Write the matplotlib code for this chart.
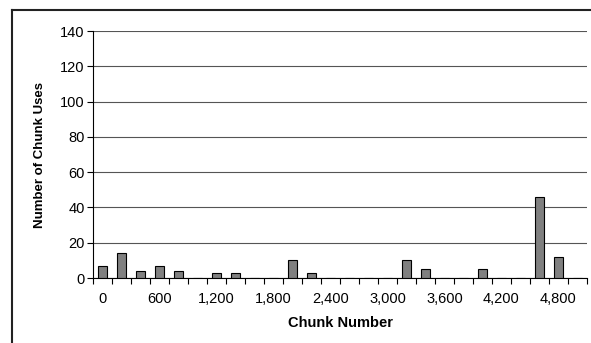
import matplotlib.pyplot as plt
from matplotlib.lines import Line2D

plt.rcParams['font.family'] = ['Liberation Sans', 'DejaVu Sans']

chunks = [0, 200, 400, 600, 800, 1000, 1200, 1400, 1600, 1800, 2000, 2200, 2400,
          2600, 2800, 3000, 3200, 3400, 3600, 3800, 4000, 4200, 4400, 4600, 4800, 5000]
uses = [7, 14, 4, 7, 4, 0, 3, 3, 0, 0, 10, 3, 0,
        0, 0, 0, 10, 5, 0, 0, 5, 0, 0, 46, 12, 0]
label_chunks = [0, 600, 1200, 1800, 2400, 3000, 3600, 4200, 4800]

fig = plt.figure(figsize=(5.91, 3.43), dpi=100)
ax = fig.add_axes([0.1574, 0.1895, 0.8358, 0.7201])

pos = list(range(len(chunks)))
ax.bar(pos, uses, width=0.47, color='#808080', edgecolor='black', linewidth=0.8, zorder=3)

ax.set_xlim(-0.5, len(chunks) - 0.5)
ax.set_ylim(0, 140)
ax.set_yticks(range(0, 141, 20))
ax.grid(axis='y', color='#555555', linewidth=0.8, zorder=0)

ax.set_xticks([chunks.index(c) for c in label_chunks])
ax.set_xticklabels([f'{c:,}' for c in label_chunks])
ax.set_xticks([i - 0.5 for i in range(len(chunks) + 1)], minor=True)
ax.tick_params(axis='x', which='major', length=0, pad=10, labelsize=10.5)
ax.tick_params(axis='x', which='minor', length=4, width=0.8, direction='out')
ax.tick_params(axis='y', length=4, width=0.8, direction='out', labelsize=10.5, pad=2)

for s in ['top', 'right']:
    ax.spines[s].set_visible(False)
for s in ['left', 'bottom']:
    ax.spines[s].set_linewidth(0.8)

ax.set_xlabel('Chunk Number', fontsize=10.5, fontweight='bold', labelpad=7)
ax.set_ylabel('Number of Chunk Uses', fontsize=9.5, fontweight='bold', labelpad=10)

# outer chart frame (only top and left edges visible)
fig.add_artist(Line2D([12 / 591, 1.0], [1 - 10 / 343, 1 - 10 / 343], color='#222222', linewidth=1.5))
fig.add_artist(Line2D([12 / 591, 12 / 591], [0, 1 - 10 / 343], color='#222222', linewidth=1.5))

fig.savefig('out.png', dpi=100)
